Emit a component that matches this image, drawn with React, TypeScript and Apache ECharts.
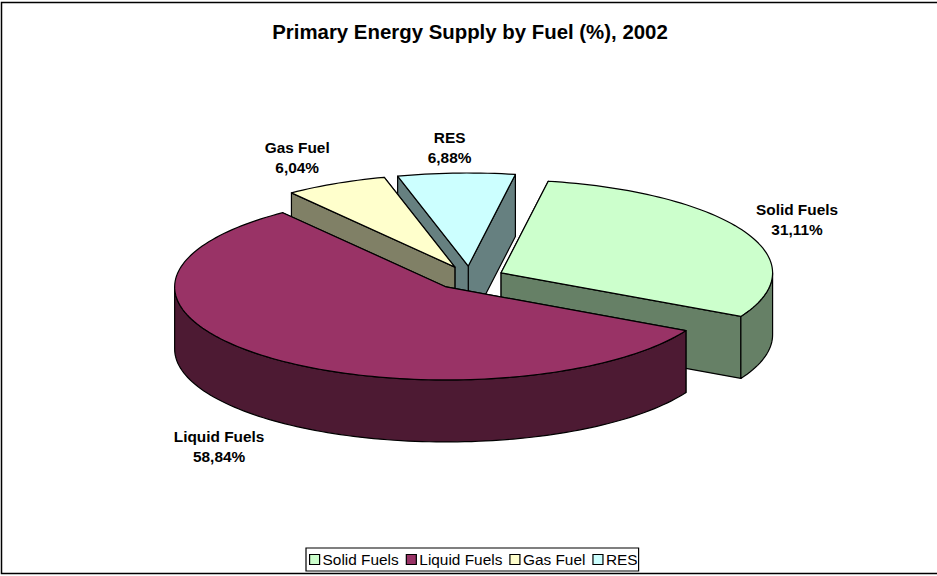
import React, { useEffect, useRef } from "react";
import * as echarts from "echarts";

const categories = ["Solid Fuels", "Liquid Fuels", "Gas Fuel", "RES"];
const values = [31.11, 58.84, 6.04, 6.88];
const topColors = ["#CCFFCC", "#993366", "#FFFFCC", "#CCFFFF"];
const wallColors = ["#668066", "#4D1A33", "#808066", "#668080"];
const labelOffsets = [
  [51, -13.5],
  [-46, 90],
  [-44.5, -25],
  [-9, -26],
];
// small correction (degrees) of each slice's start and end for the picture's perspective
const startNudge = [0, -0.9, -1.8, -1.0];
const endNudge = [-0.9, -1.8, -1.0, 0];
const drawOrder = [3, 2, 0, 1];
const titleText = "Primary Energy Supply by Fuel (%), 2002";

const CX = 469.5;
const CY = 278;
const RX = 271.5;
const RY = 93;
const DEPTH = 62;
const EXPLODE = 0.129;
const START_DEG = -80;

const total = values.reduce((a, b) => a + b, 0);
function sliceAngles(i: number) {
  let a = START_DEG;
  for (let k = 0; k < i; k++) a += (values[k] / total) * 360;
  return [a, a + (values[i] / total) * 360];
}
const rad = (d: number) => (d * Math.PI) / 180;

function renderSlice(i: number) {
  const [t0, t1] = sliceAngles(i);
  const a0 = t0 + startNudge[i];
  const a1 = t1 + endNudge[i];
  const mid = (t0 + t1) / 2;
  const ax = CX + EXPLODE * RX * Math.cos(rad(mid));
  const ay = CY + EXPLODE * RY * Math.sin(rad(mid));
  const pt = (d: number, dz = 0) => [
    ax + RX * Math.cos(rad(d)),
    ay + RY * Math.sin(rad(d)) + dz,
  ];
  const arc = (from: number, to: number, dz = 0) => {
    const n = Math.max(2, Math.ceil(Math.abs(to - from) / 1.5));
    const out: number[][] = [];
    for (let k = 0; k <= n; k++) out.push(pt(from + ((to - from) * k) / n, dz));
    return out;
  };
  const stroke = { stroke: "#000", lineWidth: 1.2, lineJoin: "round" };
  const wallStyle = { fill: wallColors[i], ...stroke };
  const children: any[] = [];

  const edges = [a0, a1].sort((p, q) => pt(p)[1] - pt(q)[1]);
  for (const e of edges) {
    const p = pt(e);
    children.push({
      type: "polygon",
      silent: true,
      shape: { points: [[ax, ay], p, [p[0], p[1] + DEPTH], [ax, ay + DEPTH]] },
      style: wallStyle,
    });
  }
  // the front of the rim: the part of the slice between 0 and 180 degrees
  const r0 = Math.max(a0, 0);
  const r1 = Math.min(a1, 180);
  if (r1 > r0) {
    children.push({
      type: "polygon",
      silent: true,
      shape: { points: [...arc(r0, r1), ...arc(r1, r0, DEPTH)] },
      style: wallStyle,
    });
  }
  children.push({
    type: "polygon",
    silent: true,
    shape: { points: [[ax, ay], ...arc(a0, a1)] },
    style: { fill: topColors[i], ...stroke },
  });
  const out = pt(mid);
  children.push({
    type: "text",
    silent: true,
    x: out[0] + labelOffsets[i][0],
    y: out[1] + labelOffsets[i][1],
    style: {
      text: `${categories[i]}\n${values[i].toFixed(2).replace(".", ",")}%`,
      fill: "#000",
      font: 'bold 15.4px "Liberation Sans", Arial, sans-serif',
      lineHeight: 20,
      align: "center",
      verticalAlign: "middle",
    },
  });
  return { type: "group", children };
}

export default function App() {
  const ref = useRef<HTMLDivElement>(null);
  useEffect(() => {
    const chart = echarts.init(ref.current!, null, { renderer: "svg" });
    chart.setOption({
      animation: false,
      backgroundColor: "#fff",
      title: {
        text: titleText,
        left: 465,
        top: 17,
        textAlign: "center",
        textStyle: {
          fontFamily: '"Liberation Sans", Arial, sans-serif',
          fontWeight: "bold",
          fontSize: 20.4,
          color: "#000",
        },
      },
      legend: {
        data: categories.map((name, i) => ({
          name,
          icon: "rect",
          itemStyle: { color: topColors[i], borderColor: "#000", borderWidth: 1.2 },
        })),
        left: 306,
        top: 548,
        orient: "horizontal",
        selectedMode: false,
        itemWidth: 10,
        itemHeight: 10,
        itemGap: 7,
        padding: [4, 1, 4, 3],
        borderColor: "#000",
        borderWidth: 1.2,
        textStyle: {
          fontFamily: '"Liberation Sans", Arial, sans-serif',
          fontSize: 15.4,
          color: "#000",
          padding: [0, 0, 0, -2],
        },
      },
      graphic: [
        {
          type: "polyline",
          silent: true,
          shape: { points: [[945, 2.5], [1.5, 2.5], [1.5, 573.5], [945, 573.5]] },
          style: { fill: "none", stroke: "#000", lineWidth: 1.5 },
        },
      ],
      series: drawOrder.map((i, z) => ({
        type: "custom",
        name: categories[i],
        coordinateSystem: "none",
        z: z + 2,
        itemStyle: { color: topColors[i] },
        data: [values[i]],
        renderItem: () => renderSlice(i),
      })),
    });
    return () => chart.dispose();
  }, []);
  return (
    <div
      ref={ref}
      style={{ position: "absolute", left: 0, top: 0, width: 937, height: 576 }}
    />
  );
}
